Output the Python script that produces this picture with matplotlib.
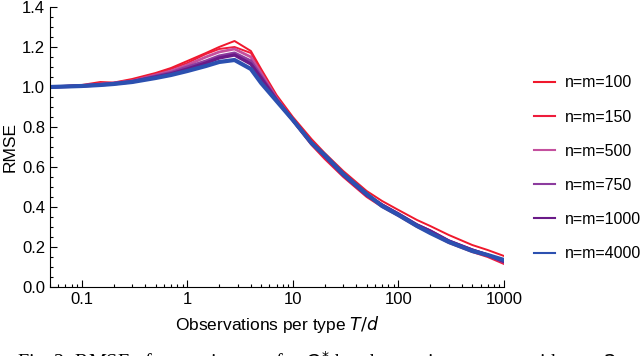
import numpy as np
import matplotlib.pyplot as plt
from matplotlib.ticker import FixedLocator, NullFormatter, MultipleLocator

plt.rcParams['font.family'] = ['Liberation Sans', 'DejaVu Sans']

# observations per type T/d
obs = [0.05, 0.1, 0.15, 0.2, 0.3, 0.5, 0.7, 1, 1.5, 2, 2.8, 4, 5, 7, 10,
       15, 20, 30, 50, 70, 100, 150, 200, 300, 500, 700, 1000]

rmse_100 = [1.00, 1.01, 1.025, 1.022, 1.04, 1.07, 1.095, 1.13, 1.17, 1.20, 1.23, 1.18, 1.09, 0.96, 0.85,
            0.74, 0.67, 0.58, 0.48, 0.43, 0.385, 0.335, 0.305, 0.26, 0.21, 0.185, 0.155]
rmse_150 = [1.00, 1.008, 1.018, 1.02, 1.035, 1.065, 1.09, 1.12, 1.165, 1.19, 1.20, 1.17, 1.08, 0.95, 0.83,
            0.71, 0.64, 0.55, 0.45, 0.40, 0.355, 0.30, 0.27, 0.22, 0.175, 0.15, 0.115]
rmse_500 = [1.00, 1.007, 1.015, 1.02, 1.03, 1.06, 1.08, 1.11, 1.15, 1.175, 1.19, 1.15, 1.07, 0.945, 0.835,
            0.72, 0.655, 0.56, 0.46, 0.41, 0.36, 0.31, 0.28, 0.23, 0.185, 0.16, 0.125]
rmse_750 = [1.00, 1.006, 1.012, 1.018, 1.028, 1.055, 1.072, 1.10, 1.13, 1.155, 1.17, 1.13, 1.055, 0.94, 0.835,
            0.72, 0.655, 0.56, 0.46, 0.41, 0.365, 0.31, 0.28, 0.23, 0.185, 0.16, 0.125]
rmse_1000 = [1.00, 1.005, 1.011, 1.016, 1.026, 1.05, 1.066, 1.09, 1.12, 1.145, 1.16, 1.115, 1.045, 0.935, 0.835,
             0.72, 0.655, 0.56, 0.46, 0.41, 0.365, 0.31, 0.28, 0.23, 0.185, 0.16, 0.128]
rmse_4000 = [1.00, 1.005, 1.01, 1.015, 1.025, 1.045, 1.06, 1.08, 1.105, 1.125, 1.135, 1.09, 1.02, 0.93, 0.835,
             0.72, 0.66, 0.565, 0.465, 0.405, 0.36, 0.305, 0.27, 0.225, 0.18, 0.16, 0.135]

labels = ['n=m=100', 'n=m=150', 'n=m=500', 'n=m=750', 'n=m=1000', 'n=m=4000']
series = [rmse_100, rmse_150, rmse_500, rmse_750, rmse_1000, rmse_4000]
colors = ['#f0182c', '#ee1c3c', '#c4509e', '#8c3c9e', '#6a1a88', '#2c50b0']
widths = [1.4, 1.4, 2.0, 2.2, 2.4, 3.0]

fig = plt.figure(figsize=(6.4, 3.56), dpi=100)
ax = fig.add_axes([50 / 640, 69 / 356, 454 / 640, 280 / 356])

for y, lab, c, w in zip(series, labels, colors, widths):
    ax.plot(obs, y, color=c, lw=w, label=lab)

ax.set_xscale('log')
ax.set_xlim(0.05, 1000)
ax.set_ylim(0, 1.4)
ax.xaxis.set_major_locator(FixedLocator([0.1, 1, 10, 100, 1000]))
ax.set_xticklabels(['0.1', '1', '10', '100', '1000'])
minor = [m * 10.0 ** e for e in range(-2, 3) for m in range(2, 10)]
ax.xaxis.set_minor_locator(FixedLocator([v for v in minor if 0.05 <= v <= 1000]))
ax.xaxis.set_minor_formatter(NullFormatter())
ax.yaxis.set_major_locator(MultipleLocator(0.2))
ax.yaxis.set_minor_locator(MultipleLocator(0.05))
ax.yaxis.set_major_formatter(plt.FuncFormatter(lambda v, p: f'{v:.1f}'))

for s in ['top', 'right']:
    ax.spines[s].set_visible(False)
ax.tick_params(which='both', direction='in', labelsize=12, width=0.8)
ax.tick_params(which='major', length=5)
ax.tick_params(which='minor', length=2.5)

ax.set_ylabel('RMSE', fontsize=12.5, labelpad=3)
ax.set_xlabel('Observations per type $T/d$', fontsize=12.5, labelpad=5)

handles, labs = ax.get_legend_handles_labels()
leg = fig.legend(handles, labs, loc='upper left', bbox_to_anchor=(520 / 640, 1 - 61 / 356),
                 frameon=False, fontsize=11.5, labelspacing=1.2, handlelength=1.3, handletextpad=0.6)
for h in leg.get_lines():
    h.set_linewidth(1.5)

fig.text(17 / 640, -0.035, 'Fig. 2: RMSE of our estimators for $Q^{*}$ by observation per row with $\\sigma = 2$',
         fontsize=14.5, family='Liberation Serif', va='baseline', ha='left')

fig.savefig('out.png', dpi=100)
